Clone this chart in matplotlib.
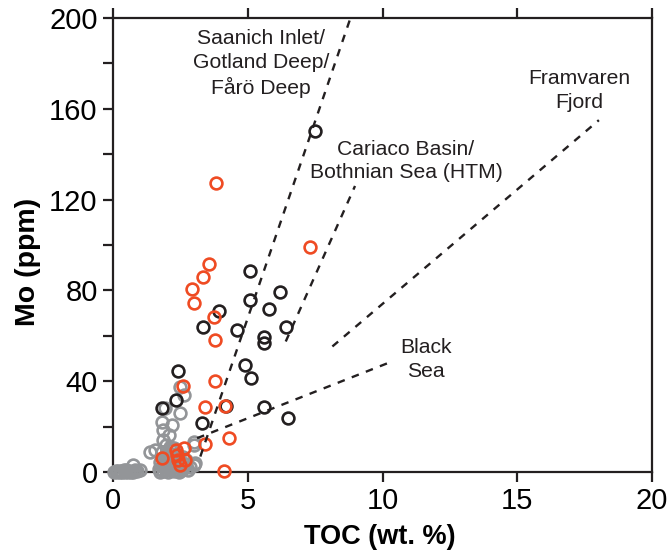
import matplotlib
matplotlib.use("Agg")
import matplotlib.pyplot as plt

plt.rcParams['font.family'] = ['Liberation Sans', 'DejaVu Sans']

# ---- data ----
gray_x = [0.05, 0.15, 0.25, 0.35, 0.45, 0.55, 0.65, 0.75, 0.2, 0.5, 0.8, 0.75, 1.0, 0.1,
          0.3, 0.6, 0.9, 0.4,
          1.75, 1.85, 1.95, 2.05, 2.15, 2.25, 2.35, 2.45, 2.55, 1.8, 1.9, 2.0, 2.1, 2.2, 2.3,
          1.85, 2.0, 2.6, 2.7, 2.4, 1.8, 2.05, 1.95, 1.87, 2.06, 1.87, 2.19, 1.81, 2.5, 1.94,
          2.62, 2.5, 1.38, 1.56, 2.99, 2.99, 2.5, 3.05, 2.99, 1.7, 2.8, 2.3, 2.6,
          1.9, 2.1, 2.3, 2.5, 2.2, 2.0, 2.4, 2.15, 1.95, 2.45, 2.25, 2.7, 2.85, 1.75, 2.1]
gray_y = [0, 0, 0, 0, 0, 0, 0, 0, 0.5, 0.8, 1, 3, 0.8, 0.3,
          0.6, 0.3, 0.5, 0.9,
          0, 0.5, 1, 0, 1.5, 0.5, 2, 0, 1, 2.5, 4, 3, 5, 4, 6,
          6, 7, 2, 3.5, 3.5, 9, 8.5, 11.9, 14.1, 16.3, 18.5, 20.8, 22.2, 25.9, 28.1,
          34, 37.5, 9.0, 9.7, 11.9, 3.1, 2.4, 4.1, 13.4, 1.5, 1, 8, 6.5,
          2, 2.5, 3, 4.5, 7, 5.5, 1, 9.5, 8, 7, 10.5, 5.5, 2, 4.5, 11]

black_x = [7.49, 5.10, 6.19, 5.08, 5.78, 3.92, 3.34, 4.61, 5.60, 5.60, 6.41, 2.43, 2.35,
           1.81, 4.89, 5.13, 4.21, 5.60, 6.51, 3.30]
black_y = [150.1, 88.4, 79.2, 75.6, 72.0, 70.8, 63.9, 62.7, 59.5, 56.8, 63.9, 44.7, 31.8,
           28.4, 47.2, 41.4, 29.1, 28.5, 23.7, 21.5]

orange_x = [3.84, 7.30, 3.58, 3.35, 2.94, 3.02, 3.76, 3.80, 2.61, 3.80, 3.43, 4.17, 4.32,
            3.43, 4.13, 1.81, 2.35, 2.62, 2.43, 2.68, 2.37, 2.5]
orange_y = [127.2, 99.3, 91.8, 86.1, 80.4, 74.6, 68.4, 58.3, 38.0, 40.2, 28.7, 29.1, 15.0,
            12.4, 0.4, 6.0, 9.7, 10.5, 5.3, 5.3, 7.5, 3.0]

# trend lines (start, end) in data units
lines = {
    "saanich": ([3.24, 8.80], [6.8, 199.6]),
    "cariaco": ([6.41, 8.98], [57.5, 126.0]),
    "framvaren": ([8.14, 18.03], [55.3, 155.0]),
    "blacksea": ([3.12, 10.29], [14.9, 48.4]),
}

labels = [
    ("Saanich Inlet/\nGotland Deep/\nFårö Deep", 5.5, 180.0),
    ("Cariaco Basin/\nBothnian Sea (HTM)", 10.87, 137),
    ("Framvaren\nFjord", 17.3, 168),
    ("Black\nSea", 11.6, 49.5),
]

BLACK = "#231f20"
ORANGE = "#ef4b23"
GRAY = "#939598"

fig = plt.figure(figsize=(6.7, 5.54), dpi=100)
ax = fig.add_axes([113/670, (554-472)/554, (652-113)/670, (472-18)/554])

mk = dict(marker='o', linestyle='none', markersize=8.5, markeredgewidth=1.9,
          markerfacecolor='none', clip_on=False)
ax.plot(gray_x, gray_y, markeredgecolor=GRAY, zorder=3, **mk)
ax.plot(black_x, black_y, markeredgecolor=BLACK, zorder=4, **mk)
ax.plot(orange_x, orange_y, markeredgecolor=ORANGE, zorder=5, **mk)

for k, (xs, ys) in lines.items():
    ax.plot(xs, ys, color=BLACK, lw=1.7, linestyle=(0, (3.2, 3.2)), zorder=6)

for txt, x, y in labels:
    ax.text(x, y, txt, ha='center', va='center', fontsize=15.2, color=BLACK,
            linespacing=1.3, multialignment='center', zorder=7)

ax.set_xlim(0, 20)
ax.set_ylim(0, 200)
ax.set_xticks([0, 5, 10, 15, 20])
ax.set_yticks([0, 40, 80, 120, 160, 200])
ax.set_yticks([20, 60, 100, 140, 180], minor=True)
for s in ax.spines.values():
    s.set_linewidth(1.6)
    s.set_color(BLACK)
ax.tick_params(axis='both', which='both', direction='out', length=7, width=1.6,
               colors=BLACK, labelsize=21, labelcolor='black', pad=4,
               top=True, right=False)
ax.tick_params(axis='x', labeltop=False)
ax.set_xlabel("TOC (wt. %)", fontsize=19.5, fontweight='bold')
ax.set_ylabel("Mo (ppm)", fontsize=20.5, fontweight='bold')
ax.xaxis.set_label_coords(0.4954, -0.115)
ax.yaxis.set_label_coords(-0.134, 0.4626)

fig.savefig("out.png", dpi=100)
